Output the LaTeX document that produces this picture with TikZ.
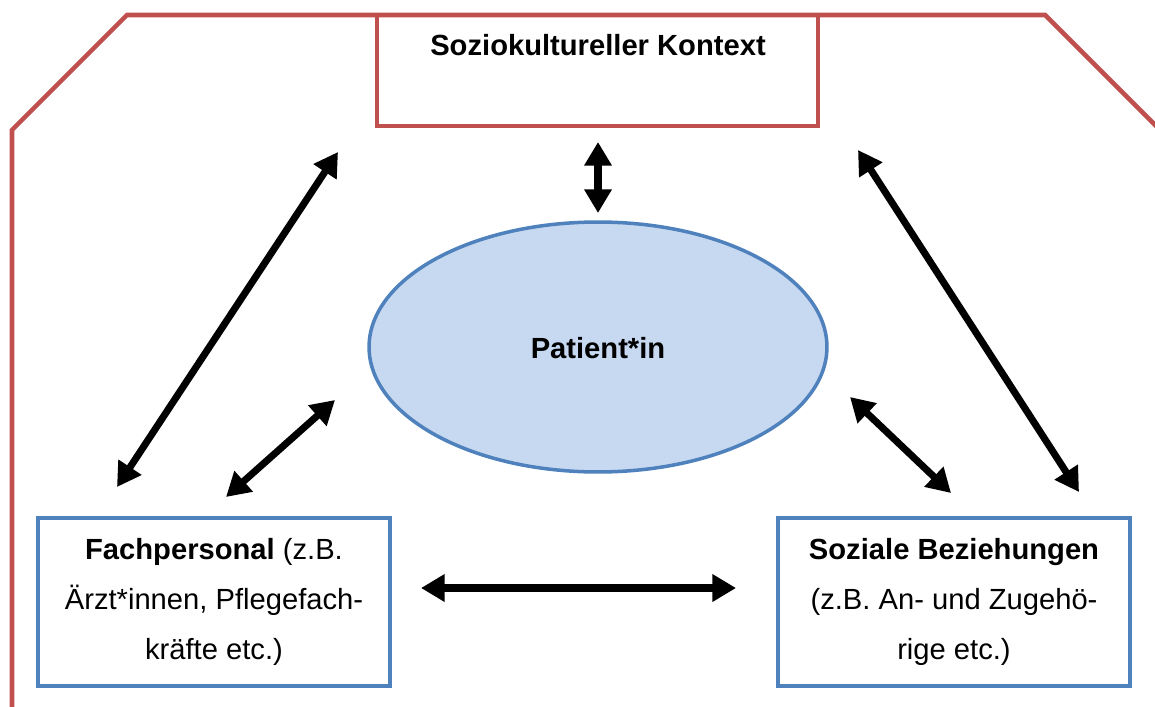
\documentclass[tikz,border=0pt]{standalone}
\usepackage{fontspec}
\setmainfont{Liberation Sans}
\usetikzlibrary{arrows.meta,shapes.geometric}
\definecolor{ctxred}{HTML}{C0504D}
\definecolor{boxblue}{HTML}{4F81BD}
\definecolor{ellfill}{HTML}{C6D9F1}
\tikzset{
  redline/.style={draw=ctxred,line width=2.6pt,line join=miter},
  bluebox/.style={draw=boxblue,line width=2.6pt,fill=white,rectangle,minimum width=7.04cm,minimum height=3.36cm,inner sep=0pt,
    align=center,font=\fontsize{16.6pt}{28.5pt}\selectfont},
  dblarrow/.style={line width=4pt,{Triangle[length=13.5pt,width=15pt]}-{Triangle[length=13.5pt,width=15pt]}},
  txt/.style={font=\fontsize{16.6pt}{28.5pt}\selectfont}
}
\begin{document}
\begin{tikzpicture}[x=0.02cm,y=-0.02cm]
\useasboundingbox (0,0) rectangle (1155,706);
\begin{scope}
\clip (0,0) rectangle (1155,706);
\draw[redline] (12,720) -- (12,130) -- (127,15) -- (1045,15) -- (1165,135);
\end{scope}
\node[redline,rectangle,minimum width=8.82cm,minimum height=2.22cm,inner sep=0pt] (ctx) at (597.5,70.5) {};
\node[txt,font=\fontsize{16.6pt}{28.5pt}\selectfont\bfseries] (ctxlabel) at (598,45) {Soziokultureller Kontext};
\node[ellipse,draw=boxblue,fill=ellfill,line width=2pt,minimum width=9.16cm,minimum height=5cm,inner sep=0pt] (pat) at (598,347) {};
\node[txt,font=\fontsize{16.6pt}{28.5pt}\selectfont\bfseries] (patlabel) at (598,348) {Patient*in};
\node[bluebox] (fach) at (214,602) {\textbf{Fachpersonal} (z.B.\\Ärzt*innen, Pflegefach-\\kräfte etc.)};
\node[bluebox] (soz) at (954,602) {\textbf{Soziale Beziehungen}\\(z.B. An- und Zugehö-\\rige etc.)};
% arrow end points
\coordinate (a1s) at (117,487); \coordinate (a1e) at (338,152);
\coordinate (a2s) at (226,497); \coordinate (a2e) at (335,400);
\coordinate (a3s) at (598,142); \coordinate (a3e) at (598,213);
\coordinate (a4s) at (858,150); \coordinate (a4e) at (1079,492);
\coordinate (a5s) at (850,397); \coordinate (a5e) at (951,493);
\coordinate (a6s) at (421,588); \coordinate (a6e) at (736,588);
\draw[dblarrow] (a1s) -- (a1e);
\draw[dblarrow] (a2s) -- (a2e);
\draw[dblarrow] (a3s) -- (a3e);
\draw[dblarrow] (a4s) -- (a4e);
\draw[dblarrow] (a5s) -- (a5e);
\draw[dblarrow] (a6s) -- (a6e);
\end{tikzpicture}
\end{document}
